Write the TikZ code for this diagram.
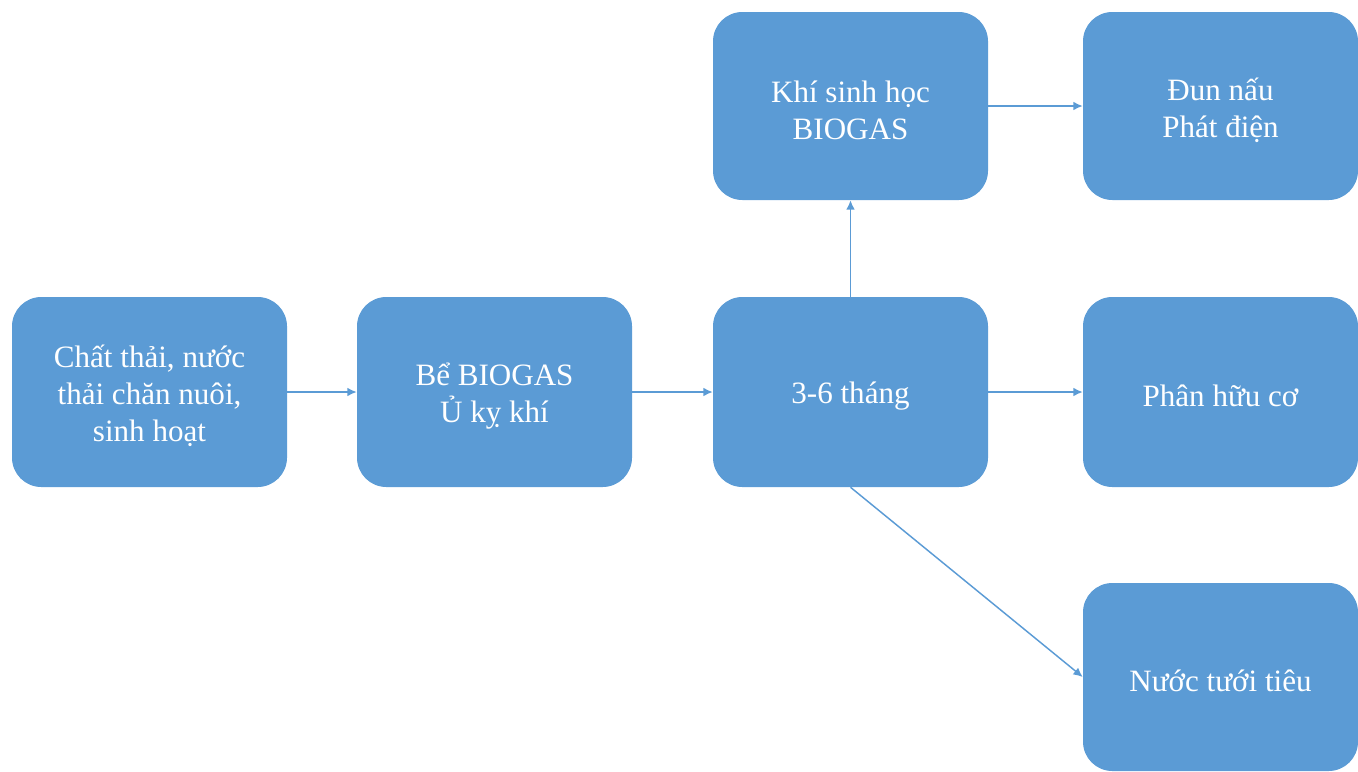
\documentclass[tikz,border=0pt]{standalone}
\usepackage{fontspec}
\setmainfont{Liberation Serif}
\usetikzlibrary{arrows.meta}
\definecolor{boxblue}{HTML}{5B9BD5}
\tikzset{
  stepbox/.style={fill=boxblue, draw=none, rounded corners=22pt, minimum width=206.25pt, minimum height=142.5pt, inner sep=0pt},
  boxtext/.style={text=white, align=center, font=\fontsize{23.3pt}{27.75pt}\selectfont, inner sep=0pt, yshift=-3pt},
  conn/.style={draw=boxblue, line width=1.1pt, -{Latex[length=7pt,width=6.5pt]}}
}
\begin{document}
\begin{tikzpicture}[x=0.75pt,y=-0.75pt]
\useasboundingbox (0,0) rectangle (1358,771);
\node[stepbox, label={[boxtext]center:{Chất thải, nước\\thải chăn nuôi,\\sinh hoạt}}] (b1) at (149.5,392) {};
\node[stepbox, label={[boxtext]center:{Bể BIOGAS\\Ủ kỵ khí}}] (b2) at (494.5,392) {};
\node[stepbox, label={[boxtext]center:{3-6 tháng}}] (b3) at (850.5,392) {};
\node[stepbox, minimum height=141pt, label={[boxtext]center:{Khí sinh học\\BIOGAS}}] (b4) at (850.5,106) {};
\node[stepbox, minimum height=141pt, label={[boxtext]center:{Đun nấu\\Phát điện}}] (b5) at (1220.5,106) {};
\node[stepbox, label={[boxtext]center:{Phân hữu cơ}}] (b6) at (1220.5,392) {};
\node[stepbox, minimum height=141pt, label={[boxtext]center:{Nước tưới tiêu}}] (b7) at (1220.5,677) {};
\draw[conn] (b1.east) -- (b2.west);
\draw[conn] (b2.east) -- (b3.west);
\draw[conn] (b3.east) -- (b6.west);
\draw[conn] (b4.east) -- (b5.west);
\draw[conn] (b3.north) -- (b4.south);
\draw[conn] (b3.south) -- (b7.west);
\end{tikzpicture}
\end{document}
